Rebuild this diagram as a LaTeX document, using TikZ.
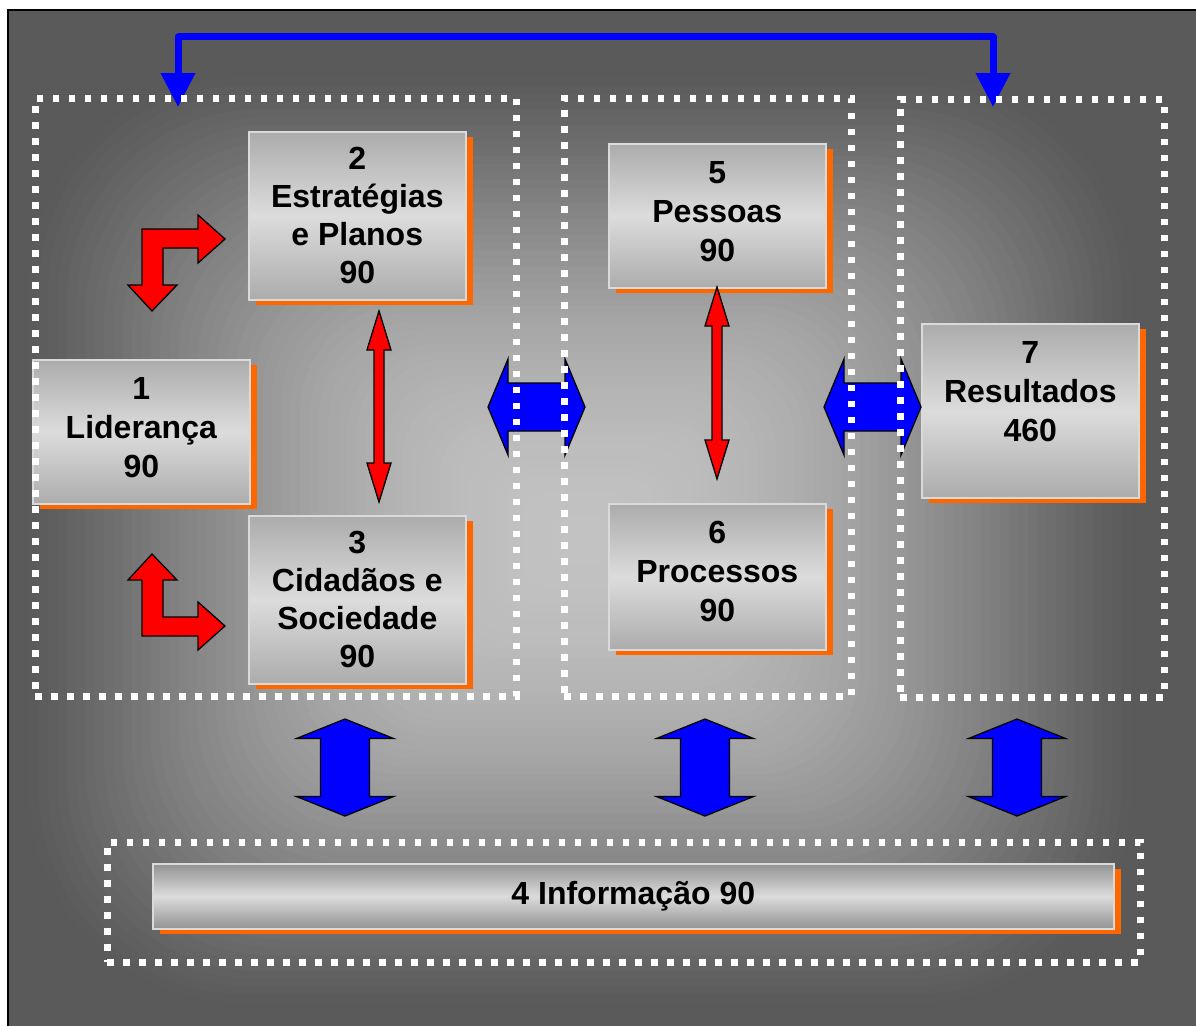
\documentclass[tikz,border=0pt]{standalone}
\usepackage{fontspec}
\setmainfont{Liberation Sans}
\usetikzlibrary{arrows.meta,shadows}
\definecolor{bgdark}{HTML}{5A5A5A}
\definecolor{boxtop}{HTML}{ACACAC}
\definecolor{boxmid}{HTML}{DCDCDC}
\definecolor{boxedge}{HTML}{DADADA}
\definecolor{shorange}{HTML}{FF6600}
\definecolor{arrblue}{HTML}{0000FF}
\definecolor{arrred}{HTML}{FF0000}
\newcommand\bxfont{\fontsize{32}{38}\selectfont\bfseries}
\newcommand\bxfontb{\fontsize{32}{39}\selectfont\bfseries}
\tikzset{
  box/.style={draw=boxedge, line width=1.6pt, top color=boxtop, bottom color=boxtop, middle color=boxmid, inner sep=0pt, anchor=north west, align=center, font=\bxfont, text=black, drop shadow={shadow xshift=7pt, shadow yshift=-5pt, fill=shorange, opacity=1}},
  btext/.style={font=\bxfontb, align=center, text=black, inner sep=0pt},
  grp/.style={draw=white, line width=6.5pt, dash pattern=on 6.5pt off 9.5pt, inner sep=0pt, anchor=north west},
  bluearr/.style={fill=arrblue, draw=black, line width=1.3pt},
  redarr/.style={fill=arrred, draw=black, line width=1.3pt},
  conn/.style={draw=arrblue, line width=7pt, line join=round, <->, >={Triangle[width=33pt,length=34pt]}},
  pics/dbl/.style n args={4}{code={\path[pic actions] (0,-#1) -- (#3,-#1+#2) -- (#4,-#1+#2) -- (#4,#1-#2) -- (#3,#1-#2) -- (0,#1) -- (-#3,#1-#2) -- (-#4,#1-#2) -- (-#4,-#1+#2) -- (-#3,-#1+#2) -- cycle;}},
}
\begin{document}
\begin{tikzpicture}[x=1pt,y=-1pt]
\useasboundingbox (0,0) rectangle (1196,1025);
\clip (0,0) rectangle (1196,1025);
% background: rectangular gradient from the centre
\fill[bgdark] (8,10) rectangle (1205,1035);
\foreach \bgI in {0,...,59}{
  \pgfmathsetmacro\bgT{1-\bgI/60}
  \pgfmathtruncatemacro\bgG{90+104*(max(1-\bgT*\bgT,0.0001))^1.3+0.5}
  \pgfmathsetmacro\bgW{560*\bgT}
  \pgfmathsetmacro\bgH{470*\bgT}
  \pgfmathsetmacro\bgR{0.45*\bgH}
  \definecolor{bgtmp}{RGB}{\bgG,\bgG,\bgG}
  \fill[bgtmp, rounded corners=\bgR pt] (580-\bgW,540-\bgH) rectangle (580+\bgW,540+\bgH);
}
\draw[line width=2pt, black] (8,1035) -- (8,10) -- (1205,10);

% boxes
\node[box, minimum width=217pt, minimum height=144pt] (b1) at (32,359) {};
\node[btext] (t1) at ([yshift=4pt]b1.center) {1\\Liderança\\90};
\node[box, minimum width=217pt, minimum height=168pt] (b2) at (248,131) {2\\Estratégias\\e Planos\\90};
\node[box, minimum width=217pt, minimum height=168pt] (b3) at (248,515) {3\\Cidadãos e\\Sociedade\\90};
\node[box, minimum width=217pt, minimum height=144pt] (b5) at (608,143) {};
\node[btext] (t5) at ([yshift=4pt]b5.center) {5\\Pessoas\\90};
\node[box, minimum width=217pt, minimum height=146pt] (b6) at (608,503) {};
\node[btext] (t6) at ([yshift=5pt]b6.center) {6\\Processos\\90};
\node[box, minimum width=217pt, minimum height=174pt] (b7) at (921,323) {};
\node[btext] (t7) at ([yshift=19pt]b7.center) {7\\Resultados\\460};
\node[box, minimum width=961pt, minimum height=65pt, top color=boxtop!85!black, bottom color=boxtop!85!black, middle color=boxmid] (b4) at (152,863) {4 Informação 90};

% red bent arrows
\path[redarr] (142,229) -- (198,229) -- (198,215) -- (225,239) -- (198,263) -- (198,248) -- (163,248) -- (163,285) -- (177,285) -- (152,311) -- (128,285) -- (142,285) -- cycle;
\path[redarr] (142,636) -- (198,636) -- (198,650) -- (225,626) -- (198,602) -- (198,617) -- (163,617) -- (163,580) -- (177,580) -- (152,554) -- (128,580) -- (142,580) -- cycle;

% red vertical double arrows
\pic[redarr] at (379,406.5) {dbl={95.5}{39}{12}{5}};
\pic[redarr] at (717,383) {dbl={96}{39}{12}{5}};

% blue horizontal double arrows
\pic[bluearr, rotate=90] at (536.5,407) {dbl={48.5}{20}{48}{24}};
\pic[bluearr, rotate=90] at (872.5,407) {dbl={48.5}{20}{48}{24}};

% blue vertical double arrows
\pic[bluearr] at (345,767.5) {dbl={48.5}{19.5}{48.5}{24.5}};
\pic[bluearr] at (705,767.5) {dbl={48.5}{19.5}{48.5}{24.5}};
\pic[bluearr] at (1017,767.5) {dbl={48.5}{19.5}{48.5}{24.5}};

% top blue connector
\coordinate (a1) at (178,107);
\coordinate (a3) at (993,107);
\coordinate (top) at (600,37);
\draw[conn] (a1) |- (top) -| (a3);

% dotted groups
\node[grp, minimum width=481pt, minimum height=598pt] (g1) at (32,95) {};
\node[grp, minimum width=287pt, minimum height=598pt] (g2) at (561,95) {};
\node[grp, minimum width=264pt, minimum height=598pt] (g3) at (897,96) {};
\node[grp, minimum width=1033pt, minimum height=120pt] (g4) at (104,839) {};
\end{tikzpicture}
\end{document}
